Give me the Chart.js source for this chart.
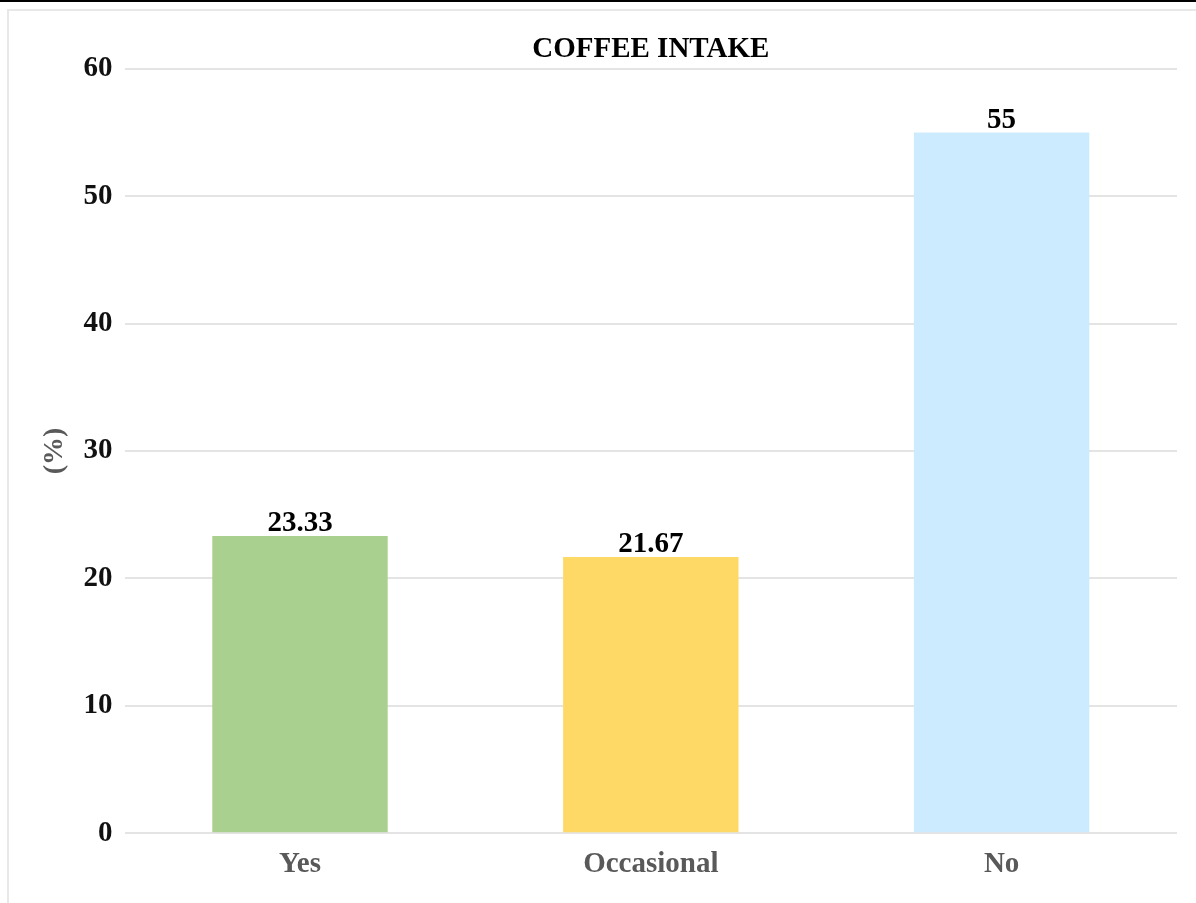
<!DOCTYPE html>
<html>
<head>
<meta charset="utf-8">
<script src="https://cdn.jsdelivr.net/npm/chart.js@4"></script>
<style>
  html, body { margin: 0; padding: 0; background: #fff; }
  body { width: 1196px; height: 903px; position: relative; overflow: hidden; }
  #topLine { position: absolute; left: 0; top: 0; width: 1196px; height: 2px; background: #000; }
  #frame { position: absolute; left: 7px; top: 9px; width: 1300px; height: 1000px; border: 2px solid #e8e8e8; }
  #wrap { position: absolute; left: 0; top: 0; width: 1196px; height: 903px; }
</style>
</head>
<body>
<div id="topLine"></div>
<div id="frame"></div>
<div id="wrap"><canvas id="coffeeChart" width="1196" height="903"></canvas></div>
<script>
var intakeLabels = ['Yes', 'Occasional', 'No'];
var intakePercent = [23.33, 21.67, 55];
var barColors = ['#a9d08e', '#ffd966', '#cdebfe'];
var yTicks = [0, 10, 20, 30, 40, 50, 60];

var serif = "'Liberation Serif', 'Times New Roman', serif";

// writes each bar's value just above its top
var valueLabels = {
    id: 'valueLabels',
    afterDatasetsDraw: function (chart) {
        var ctx = chart.ctx;
        var meta = chart.getDatasetMeta(0);
        ctx.save();
        ctx.font = 'bold 29px ' + serif;
        ctx.fillStyle = '#000';
        ctx.textAlign = 'center';
        ctx.textBaseline = 'alphabetic';
        meta.data.forEach(function (bar, i) {
            ctx.fillText(String(intakePercent[i]), bar.x, bar.y - 5);
        });
        ctx.restore();
    }
};

var ctx = document.getElementById('coffeeChart').getContext('2d');
var coffeeChart = new Chart(ctx, {
    type: 'bar',
    data: {
        labels: intakeLabels,
        datasets: [{
            label: 'Coffee intake',
            data: intakePercent,
            backgroundColor: barColors,
            borderWidth: 0,
            categoryPercentage: 1,
            barPercentage: 0.5
        }]
    },
    options: {
        responsive: false,
        animation: false,
        layout: {
            padding: { left: 35, right: 19, top: 0, bottom: 15 }
        },
        plugins: {
            legend: { display: false },
            tooltip: { enabled: false },
            title: {
                display: true,
                fullSize: false,
                text: 'COFFEE INTAKE',
                color: '#000',
                font: { family: serif, size: 29, weight: 'bold', lineHeight: 1.2 },
                padding: { top: 32, bottom: 2 }
            }
        },
        scales: {
            x: {
                grid: { display: false },
                border: { display: false },
                ticks: {
                    color: '#595959',
                    padding: 6,
                    font: { family: serif, size: 29, weight: 'bold', lineHeight: 1.2 }
                }
            },
            y: {
                min: 0,
                max: 60,
                afterBuildTicks: function (axis) {
                    axis.ticks = yTicks.map(function (v) { return { value: v }; });
                },
                grid: { color: '#e4e4e4', lineWidth: 2, drawTicks: false },
                border: { display: false },
                ticks: {
                    color: '#111',
                    padding: 12,
                    font: { family: serif, size: 29, weight: 'bold', lineHeight: 1.2 }
                },
                title: {
                    display: true,
                    text: '(%)',
                    color: '#595959',
                    padding: { top: 3, bottom: 0 },
                    font: { family: serif, size: 28, weight: 'bold', lineHeight: 1.2 }
                }
            }
        }
    },
    plugins: [valueLabels]
});
</script>
</body>
</html>
